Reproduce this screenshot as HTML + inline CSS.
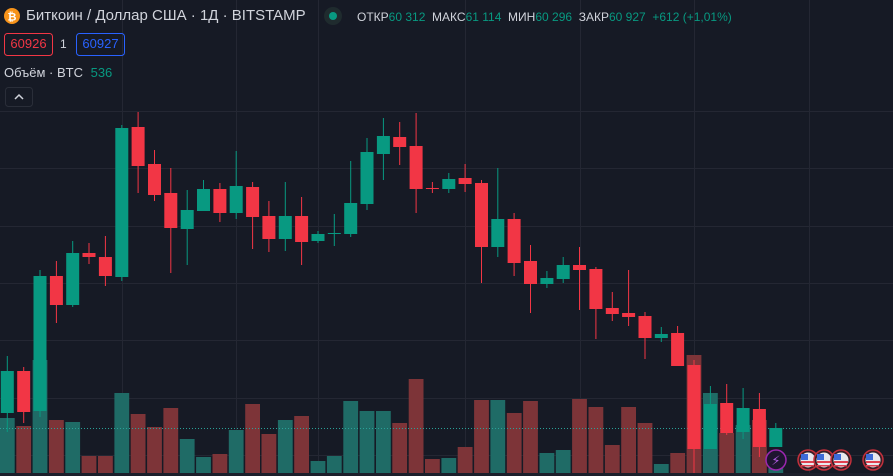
<!DOCTYPE html>
<html><head><meta charset="utf-8"><style>
html,body{margin:0;padding:0;background:#161a25;width:893px;height:476px;overflow:hidden;font-family:"Liberation Sans",sans-serif}
svg{position:absolute;left:0;top:0}
.t{position:absolute;white-space:nowrap}
</style></head><body>
<svg id="s" width="893" height="476" xmlns="http://www.w3.org/2000/svg">
<rect width="893" height="476" fill="#161a25"/>
<g stroke="#242733" stroke-width="1">
<line x1="0" y1="111.5" x2="893" y2="111.5"/><line x1="0" y1="168.5" x2="893" y2="168.5"/><line x1="0" y1="226.5" x2="893" y2="226.5"/><line x1="0" y1="283.5" x2="893" y2="283.5"/><line x1="0" y1="340.5" x2="893" y2="340.5"/><line x1="0" y1="398.5" x2="893" y2="398.5"/><line x1="0" y1="455.5" x2="893" y2="455.5"/>
<line x1="122.5" y1="0" x2="122.5" y2="476"/><line x1="236.5" y1="0" x2="236.5" y2="476"/><line x1="318.5" y1="0" x2="318.5" y2="476"/><line x1="465.5" y1="0" x2="465.5" y2="476"/><line x1="580.5" y1="0" x2="580.5" y2="476"/><line x1="694.5" y1="0" x2="694.5" y2="476"/><line x1="809.5" y1="0" x2="809.5" y2="476"/>
</g>
<g id="vol"></g>
<line x1="0" y1="428.5" x2="893" y2="428.5" stroke="#2aa198" stroke-width="1" stroke-dasharray="1,2"/>
<g id="cdl"></g>
<circle cx="776" cy="460" r="10" fill="#1f1530" stroke="#9c27b0" stroke-width="1.5"/>
<text x="776" y="465" font-size="13" fill="#b05be0" text-anchor="middle" font-family="DejaVu Sans">⚡</text>
<g id="flags"></g>
<rect x="0" y="473" width="893" height="3" fill="#1c1f2b"/>
</svg>
<svg width="893" height="110" style="pointer-events:none">
<circle cx="12" cy="16" r="8" fill="#f7931a"/>
<text x="12" y="20.5" font-size="11" font-weight="bold" fill="#fff" text-anchor="middle" font-family="Liberation Sans">₿</text>
<circle cx="333" cy="16" r="9" fill="#1f2b2e"/><circle cx="333" cy="16" r="4" fill="#089981"/>
<rect x="4.5" y="33.5" width="48" height="22" rx="3" fill="none" stroke="#f23645"/>
<rect x="76.5" y="33.5" width="48" height="22" rx="3" fill="none" stroke="#2962ff"/>
<rect x="5.5" y="87.5" width="27" height="19" rx="3" fill="#161a25" stroke="#2a2e39"/>
<path d="M15 99 L19 95 L23 99" stroke="#d1d4dc" stroke-width="1.5" fill="none"/>
</svg>
<div class="t" style="left:26px;top:7px;font-size:15px;color:#d1d4dc">Биткоин / Доллар США · 1Д · BITSTAMP</div>
<div class="t" style="left:357px;top:10px;font-size:12px;color:#d1d4dc">ОТКР<span style="color:#089981">60 312</span>&nbsp; МАКС<span style="color:#089981">61 114</span>&nbsp; МИН<span style="color:#089981">60 296</span>&nbsp; ЗАКР<span style="color:#089981">60 927&nbsp; +612 (+1,01%)</span></div>
<div class="t" style="left:4px;top:36px;width:49px;text-align:center;font-size:13px;color:#f23645">60926</div>
<div class="t" style="left:60px;top:37px;font-size:12px;color:#d1d4dc">1</div>
<div class="t" style="left:76px;top:36px;width:49px;text-align:center;font-size:13px;color:#2962ff">60927</div>
<div class="t" style="left:4px;top:65px;font-size:13px;color:#d1d4dc">Объём · BTC <span style="color:#089981;margin-left:4px">536</span></div>
<script>
var C=[[356,432,371,413,1],[367,423,371,412,0],[270,417,276,411,1],[261,323,276,305,0],[241,307,253,305,1],[243,264,253,257,0],[236,286,257,276,0],[125,281,128,277,1],[112,193,127,166,0],[150,201,164,195,0],[168,273,193,228,0],[190,265,210,229,1],[180,211,189,211,1],[183,222,189,213,0],[151,219,186,213,1],[182,249,187,217,0],[201,252,216,239,0],[182,251,216,239,1],[197,265,216,242,0],[231,243,234,241,1],[214,246,233,234,1],[161,237,203,234,1],[138,210,152,204,1],[118,180,136,154,1],[122,165,137,147,0],[113,213,146,189,0],[182,193,188,189,0],[173,193,179,189,1],[164,192,178,184,0],[180,283,183,247,0],[168,257,219,247,1],[213,276,219,263,0],[245,313,261,284,0],[271,288,278,284,1],[257,283,265,279,1],[247,310,265,270,0],[267,339,269,309,0],[292,321,308,314,0],[270,326,313,317,0],[312,359,316,338,0],[327,342,334,338,1],[326,366,333,366,0],[360,473,365,449,0],[386,449,404,449,1],[384,435,403,433,0],[388,439,408,432,1],[393,457,409,447,0],[423,447,428,447,1]];
var V=[418,426,360,420,422,456,456,393,414,427,408,439,457,454,430,404,434,420,416,461,456,401,411,411,423,379,459,458,447,400,400,413,401,453,450,399,407,445,407,423,464,453,355,393,433,425,420,468];
var ns="http://www.w3.org/2000/svg";
function el(p,t,a){var e=document.createElementNS(ns,t);for(var k in a)e.setAttribute(k,a[k]);p.appendChild(e);return e;}
var cg=document.getElementById('cdl'),vg=document.getElementById('vol');
for(var i=0;i<C.length;i++){var x=7.3+16.35*i,c=C[i],col=c[4]?'#089981':'#f23645';
el(vg,'rect',{x:(x-7.4).toFixed(1),y:V[i],width:14.8,height:473-V[i],fill:c[4]?'#1f6b66':'#7d3438'});
el(cg,'rect',{x:(x-0.5).toFixed(1),y:c[0],width:1,height:c[1]-c[0],fill:col});
el(cg,'rect',{x:(x-6.5).toFixed(1),y:c[2],width:13,height:Math.max(1,c[3]-c[2]),fill:col});}
var fg=document.getElementById('flags');
[808,824,841,873].forEach(function(x){el(fg,'circle',{cx:x,cy:460,r:10,fill:'#3a1e26',stroke:'#c2303c','stroke-width':1.5});
el(fg,'circle',{cx:x,cy:460,r:7.5,fill:'#e8e8ee'});
el(fg,'rect',{x:x-7,y:461,width:14,height:2,fill:'#e04050'});el(fg,'rect',{x:x-7,y:465,width:13,height:1.5,fill:'#e04050'});
el(fg,'rect',{x:x-7,y:454,width:7,height:6,fill:'#3d6bd8'});});
</script>
</body></html>
